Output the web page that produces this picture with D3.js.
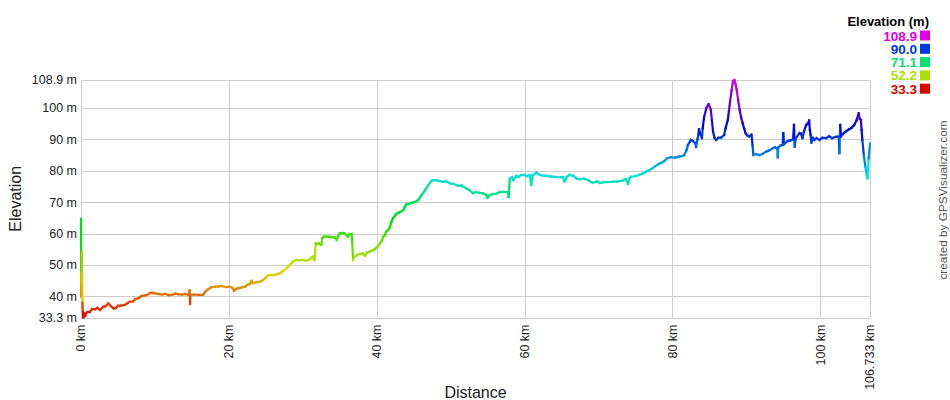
<!DOCTYPE html>
<html>
<head>
<meta charset="utf-8">
<script src="https://cdn.jsdelivr.net/npm/d3@7"></script>
<style>
  html, body { margin: 0; padding: 0; background: #fff; }
  svg { display: block; font-family: "Liberation Sans", Arial, sans-serif; }
</style>
</head>
<body>
<svg id="chart" width="950" height="400"></svg>
<script>
// ---- data ----
const distKm = [
  0, 0.03, 0.06, 0.09, 0.12, 0.16, 0.2, 0.25, 0.3, 0.4, 0.54, 0.8, 1.2, 1.5, 1.9, 2.2, 2.6, 3.0, 3.3, 3.7,
  4.0, 4.4, 4.7, 5.0, 5.5, 5.9, 6.3, 6.6, 7.0, 7.3, 7.8, 8.2, 8.6, 8.9, 9.3, 9.6, 10.0, 10.5, 11.0, 11.4,
  11.9, 12.3, 12.8, 13.2, 13.7, 14.1, 14.5, 14.7, 14.75, 14.8, 15.3, 15.9, 16.5, 16.8, 17.2, 17.6, 18.1, 18.6, 19.0, 19.6,
  20.1, 20.5, 20.7, 21.0, 21.3, 21.8, 22.2, 22.5, 22.8, 23.1, 23.2, 23.5, 24.2, 24.6, 24.9, 25.2, 25.5, 26.1, 26.9, 27.4,
  27.8, 28.2, 28.5, 28.8, 29.1, 29.6, 30.0, 30.5, 30.9, 31.2, 31.4, 31.6, 31.75, 31.9, 32.2, 32.5, 32.65, 32.8, 33.2, 33.6,
  34.0, 34.3, 34.6, 34.8, 35.0, 35.4, 35.7, 36.1, 36.3, 36.6, 36.7, 36.8, 37.0, 37.2, 37.6, 38.1, 38.4, 38.7, 39.1, 39.4,
  39.7, 40.1, 40.4, 40.7, 40.9, 41.1, 41.3, 41.6, 41.8, 42.0, 42.2, 42.5, 42.7, 43.1, 43.6, 43.8, 44.0, 44.4, 44.9, 45.3,
  45.6, 46.0, 46.3, 46.5, 46.7, 47.0, 47.4, 47.7, 48.1, 48.5, 49.0, 49.4, 49.9, 50.4, 51.0, 51.5, 52.1, 52.5, 53.0, 53.4,
  53.9, 54.4, 54.8, 55.0, 55.2, 55.7, 56.2, 56.6, 57.1, 57.7, 57.85, 58.0, 58.3, 58.5, 58.9, 59.2, 59.5, 60.0, 60.3, 60.7,
  60.9, 61.1, 61.6, 62.0, 62.4, 62.9, 63.5, 64.3, 64.8, 65.2, 65.4, 65.7, 66.1, 66.6, 67.0, 67.4, 68.0, 68.6, 69.2, 69.8,
  70.2, 70.6, 71.2, 71.9, 72.6, 73.3, 73.7, 74.0, 74.2, 74.4, 75.0, 75.5, 76.0, 76.4, 76.9, 77.3, 77.7, 78.2, 78.5, 78.9,
  79.3, 79.8, 80.4, 80.9, 81.3, 81.6, 81.9, 82.1, 82.3, 82.5, 82.8, 83.1, 83.2, 83.4, 83.6, 83.8, 84.0, 84.1, 84.3, 84.6,
  84.9, 85.2, 85.35, 85.5, 85.7, 85.9, 86.2, 86.6, 87.0, 87.2, 87.5, 87.65, 87.8, 88.0, 88.2, 88.4, 88.55, 88.7, 88.9, 89.1,
  89.3, 89.5, 89.7, 89.9, 90.1, 90.4, 90.7, 90.85, 90.95, 91.3, 91.8, 92.2, 92.7, 93.1, 93.6, 93.9, 94.2, 94.25, 94.35, 94.6,
  94.9, 95.0, 95.1, 95.6, 96.0, 96.3, 96.45, 96.55, 96.7, 97.2, 97.4, 97.6, 97.8, 98.1, 98.3, 98.5, 98.6, 98.7, 98.8, 99.0,
  99.2, 99.5, 99.9, 100.3, 100.8, 101.2, 101.6, 102.1, 102.5, 102.6, 102.7, 102.8, 103.2, 103.5, 103.9, 104.2, 104.6, 104.9, 105.2, 105.35,
  105.5, 105.6, 105.7, 105.9, 106.1, 106.3, 106.4, 106.55, 106.733
];
const elevM = [
  64.7, 48, 40, 54, 44, 47, 38, 35, 33.3, 34.5, 33.8, 35.0, 35.1, 36.0, 35.9, 36.4, 35.7, 36.7, 36.9, 37.8,
  37.0, 36.2, 36.3, 37.0, 37.1, 37.3, 37.9, 38.3, 38.4, 39.1, 39.5, 40.1, 40.3, 40.5, 41.0, 41.2, 41.0, 40.8, 40.6, 40.8,
  40.4, 40.5, 40.9, 40.7, 40.6, 40.8, 40.5, 42.0, 37.6, 40.5, 40.6, 40.5, 40.5, 41.5, 42.3, 42.9, 43.1, 43.2, 43.3, 43.0,
  43.1, 42.7, 41.8, 42.4, 42.6, 42.9, 43.1, 43.7, 44.0, 45.0, 44.2, 44.4, 44.7, 45.2, 45.8, 46.6, 46.8, 46.8, 47.4, 48.2,
  49.0, 49.9, 50.6, 51.3, 51.6, 51.5, 51.6, 51.4, 51.8, 52.4, 52.7, 51.6, 56.9, 56.7, 56.9, 56.4, 58.5, 59.0, 59.1, 59.0,
  58.9, 58.8, 58.0, 59.3, 60.1, 60.2, 60.0, 59.0, 59.9, 59.8, 57.0, 51.6, 52.8, 52.9, 53.5, 53.7, 53.0, 54.0, 54.3, 54.6,
  55.0, 55.8, 56.7, 57.8, 59.0, 59.5, 60.6, 61.3, 62.2, 63.8, 64.9, 65.8, 66.3, 66.8, 67.5, 68.5, 69.3, 69.5, 69.9, 70.2,
  70.7, 72.0, 73.0, 73.6, 74.4, 75.5, 76.8, 77.0, 77.0, 76.7, 76.5, 76.6, 76.0, 75.8, 75.2, 75.3, 74.4, 73.9, 72.9, 73.2,
  73.0, 72.8, 72.3, 71.4, 72.1, 72.6, 72.7, 73.2, 73.3, 73.2, 71.6, 77.4, 78.0, 77.0, 78.4, 78.0, 78.6, 78.7, 78.3, 78.6,
  75.5, 78.6, 79.4, 78.8, 78.5, 78.4, 78.2, 78.0, 77.9, 78.0, 76.6, 78.0, 78.7, 78.4, 77.6, 77.3, 77.5, 77.0, 76.2, 76.6,
  76.1, 76.3, 76.4, 76.5, 76.6, 76.9, 77.4, 75.8, 77.6, 78.1, 78.3, 78.7, 79.1, 79.7, 80.2, 80.8, 81.5, 82.2, 82.5, 83.1,
  84.0, 84.3, 84.2, 84.5, 84.7, 85.0, 86.5, 88.2, 89.0, 89.8, 89.4, 88.8, 87.6, 90.0, 93.2, 91.5, 90.4, 93.5, 97.2, 100.0,
  101.2, 99.4, 96.0, 92.5, 90.5, 89.8, 90.5, 90.6, 91.4, 93.5, 96.2, 99.0, 102.0, 105.5, 108.4, 108.9, 107.5, 105.8, 102.5, 99.4,
  97.0, 95.2, 93.5, 92.0, 91.3, 90.9, 91.5, 88.0, 85.0, 85.3, 85.0, 85.4, 86.1, 86.5, 87.2, 87.5, 87.0, 84.3, 87.5, 88.0,
  88.2, 92.0, 88.5, 89.5, 89.7, 90.0, 94.6, 87.7, 90.3, 92.0, 91.8, 90.4, 92.5, 94.6, 95.0, 96.0, 93.0, 91.4, 89.0, 90.5,
  89.8, 90.4, 89.8, 90.5, 90.4, 91.0, 90.4, 90.8, 90.9, 85.6, 94.6, 90.9, 92.0, 92.6, 93.2, 93.6, 94.6, 96.0, 98.3, 96.5,
  96.2, 93.0, 89.8, 85.0, 81.3, 78.5, 77.6, 84.0, 88.6
];
const yTicks = [33.3, 40, 50, 60, 70, 80, 90, 100, 108.9];
const xTicks = [0, 20, 40, 60, 80, 100, 106.733];
const legendValues = [108.9, 90.0, 71.1, 52.2, 33.3];

// ---- layout ----
const svg = d3.select("#chart");
const pL = 81, pR = 870, pT = 80, pB = 317.5;
const x = d3.scaleLinear().domain([0, 106.733]).range([pL, pR]);
const y = d3.scaleLinear().domain([33.3, 108.9]).range([pB, pT]);
const hue = d3.scaleLinear().domain([33.3, 108.9]).range([0, 300]);
const color = v => d3.hsl(hue(v), 1, 0.44).toString();

const grid = "#cccccc";

// horizontal gridlines
svg.append("g").selectAll("line").data(yTicks).join("line")
  .attr("x1", pL).attr("x2", pR)
  .attr("y1", d => Math.round(y(d)) + 0.5).attr("y2", d => Math.round(y(d)) + 0.5)
  .attr("stroke", grid).attr("stroke-width", 1);
// vertical gridlines
svg.append("g").selectAll("line").data(xTicks).join("line")
  .attr("y1", pT).attr("y2", pB)
  .attr("x1", d => Math.round(x(d)) + 0.5).attr("x2", d => Math.round(x(d)) + 0.5)
  .attr("stroke", grid).attr("stroke-width", 1);
// frame
svg.append("rect")
  .attr("x", pL + 0.5).attr("y", pT + 0.5)
  .attr("width", pR - pL).attr("height", Math.round(pB) - pT)
  .attr("fill", "none").attr("stroke", grid);

// y tick labels
svg.append("g").selectAll("text").data(yTicks).join("text")
  .attr("x", pL - 4).attr("y", d => y(d)).attr("dy", "0.35em")
  .attr("text-anchor", "end").attr("font-size", 12.5).attr("fill", "#222")
  .text(d => (d % 1 === 0 ? d.toFixed(0) : d.toFixed(1)) + " m");

// x tick labels (rotated)
svg.append("g").selectAll("text").data(xTicks).join("text")
  .attr("transform", d => `translate(${x(d)},${pB + 7}) rotate(-90)`)
  .attr("dy", "0.35em").attr("text-anchor", "end")
  .attr("font-size", 12.5).attr("fill", "#222")
  .text(d => (d % 1 === 0 ? d.toFixed(0) : d.toFixed(3)) + " km");

// axis titles
svg.append("text")
  .attr("transform", `translate(21,${(pT + pB) / 2}) rotate(-90)`)
  .attr("text-anchor", "middle").attr("font-size", 16).attr("fill", "#222")
  .text("Elevation");
svg.append("text")
  .attr("x", (pL + pR) / 2).attr("y", 398)
  .attr("text-anchor", "middle").attr("font-size", 16).attr("fill", "#222")
  .text("Distance");

// profile line as coloured segments
const pts = distKm.map((d, i) => [d, elevM[i]]);
const segs = d3.pairs(pts);
svg.append("g").selectAll("line").data(segs).join("line")
  .attr("x1", d => x(d[0][0])).attr("y1", d => y(d[0][1]))
  .attr("x2", d => x(d[1][0])).attr("y2", d => y(d[1][1]))
  .attr("stroke", d => color(d[0][1]))
  .attr("stroke-width", 2.2)
  .attr("stroke-linecap", "square");

// legend
svg.append("text")
  .attr("x", 929).attr("y", 26).attr("text-anchor", "end")
  .attr("font-size", 13).attr("font-weight", "bold").attr("fill", "#000")
  .text("Elevation (m)");
const lg = svg.append("g").selectAll("g").data(legendValues).join("g")
  .attr("transform", (d, i) => `translate(0,${40.5 + i * 13.3})`);
lg.append("text")
  .attr("x", 917).attr("y", 0).attr("text-anchor", "end")
  .attr("font-size", 13.5).attr("font-weight", "bold")
  .attr("fill", d => color(d))
  .text(d => d.toFixed(1));
lg.append("rect")
  .attr("x", 920).attr("y", -10).attr("width", 10).attr("height", 10)
  .attr("fill", d => color(d));

// credit
svg.append("text")
  .attr("transform", "translate(947,200) rotate(-90)")
  .attr("text-anchor", "middle").attr("font-size", 11.8).attr("fill", "#555")
  .text("created by GPSVisualizer.com");
</script>
</body>
</html>
